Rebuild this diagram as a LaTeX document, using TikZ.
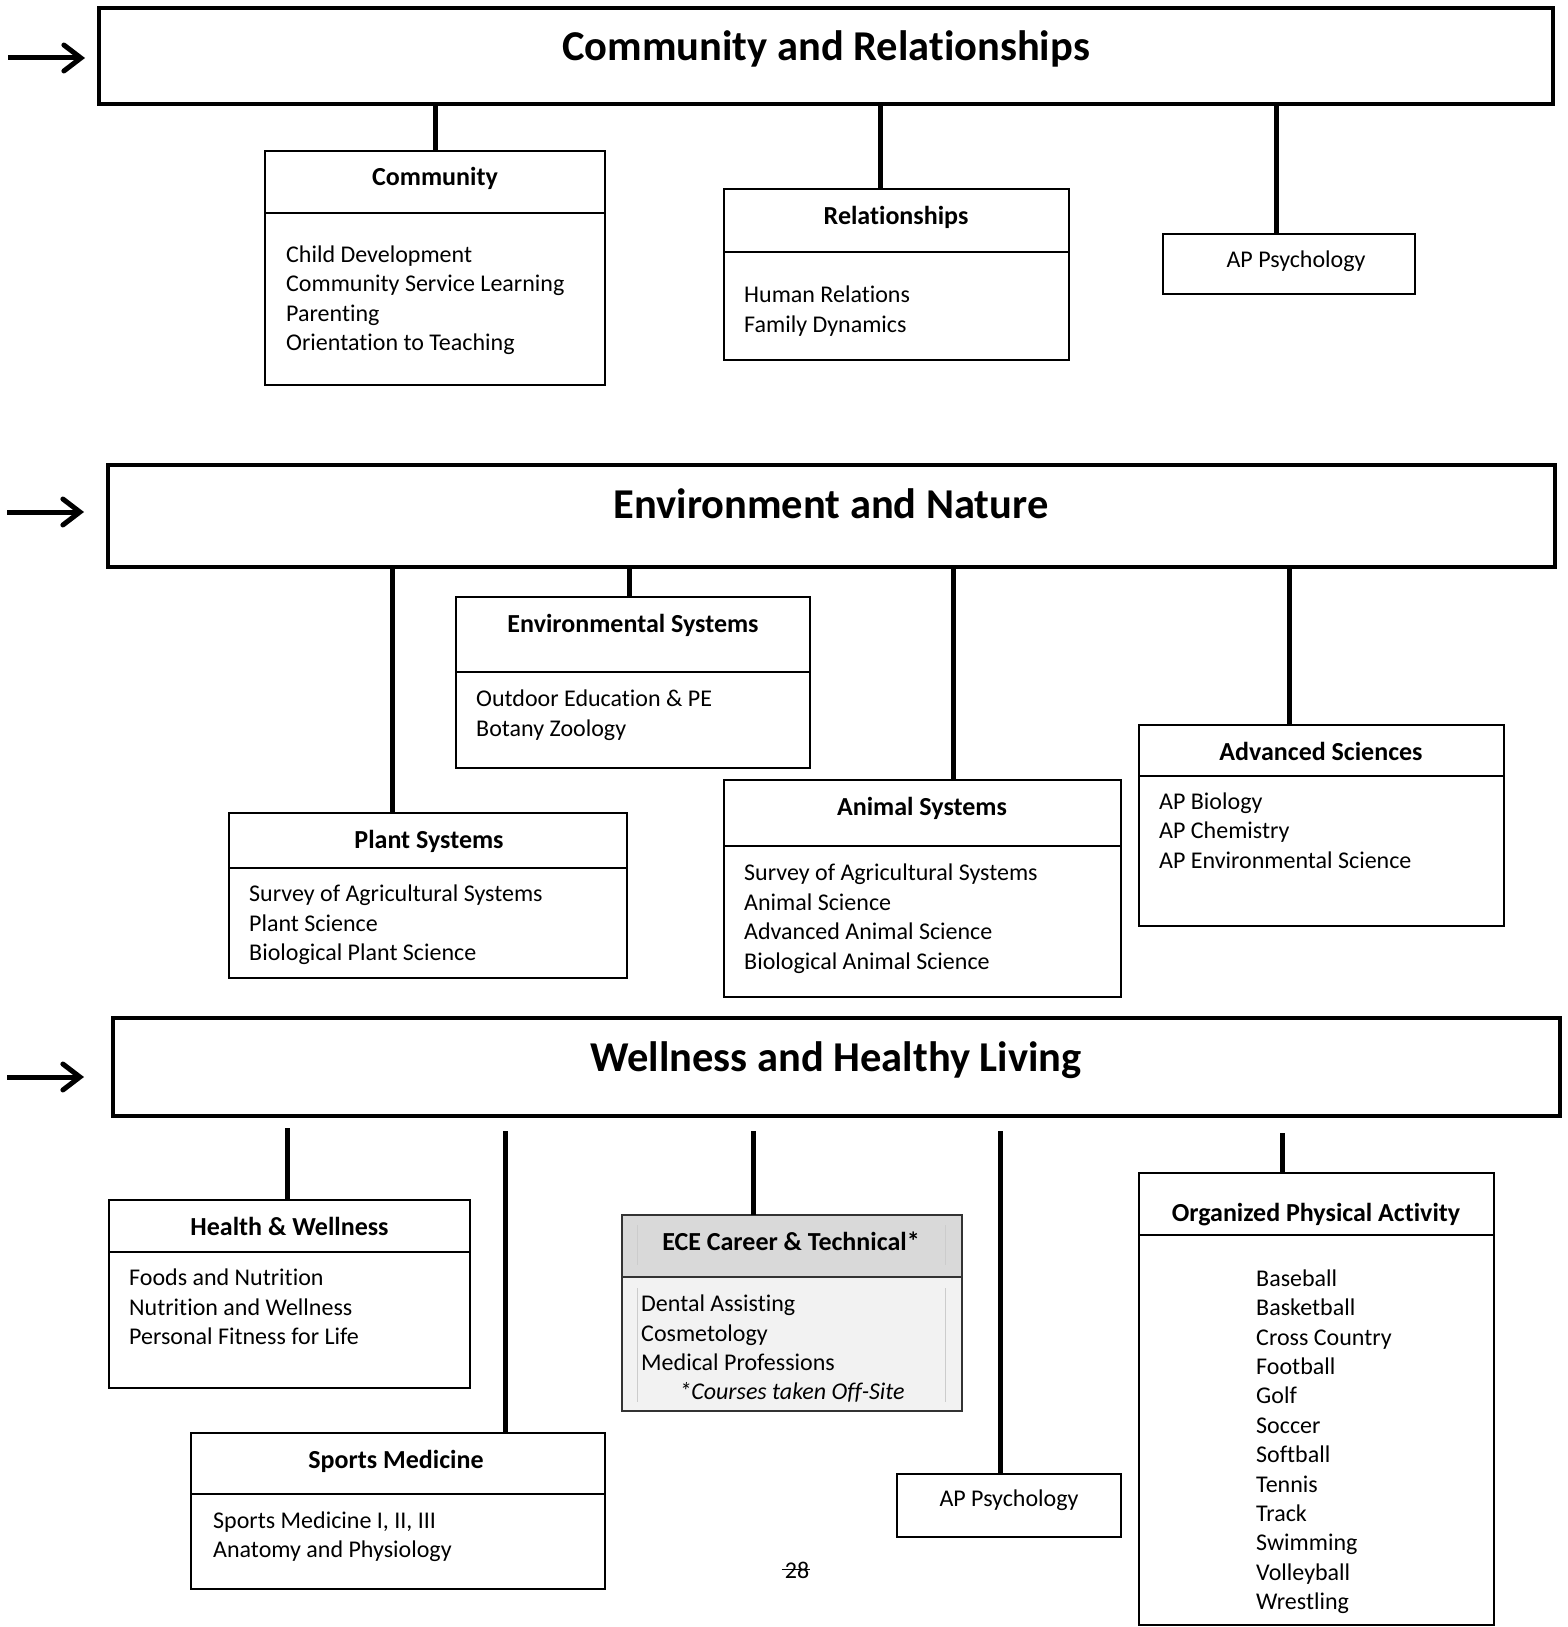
\documentclass[tikz,border=0pt]{standalone}
\usepackage{fontspec}
\setmainfont{Carlito}[Ligatures=NoCommon]
\usetikzlibrary{arrows.meta}
\begin{document}
\begin{tikzpicture}[x=1pt,y=-1pt,
  ttl/.style={draw, line width=3.5pt, inner sep=0pt, outer sep=0pt, anchor=north west},
  bx/.style={draw, line width=1.3pt, inner sep=0pt, outer sep=0pt, anchor=north west},
  conn/.style={line width=5pt},
  pointer/.style={line width=5pt, -{Straight Barb[length=17pt,width=26pt,line cap=round]}},
  titletext/.style={font=\fontsize{42.5}{50}\selectfont\bfseries, inner sep=0pt, anchor=base},
  headtext/.style={font=\fontsize{26}{31}\selectfont\bfseries, inner sep=0pt, anchor=base},
  linetext/.style={font=\fontsize{24}{29.4}\selectfont, inner sep=0pt, anchor=base},
  bodytext/.style={font=\fontsize{24}{29.4}\selectfont, inner sep=0pt, align=left, anchor=north west},
  innerline/.style={draw=black!20, line width=0.8pt}
]
\useasboundingbox (0,0) rectangle (1567,1627);

% ---------- Community and Relationships ----------
\node[ttl, minimum width=1454pt, minimum height=96pt] (t1) at (99,8) {};
\node[titletext] (t1txt) at (826,60.3) {Community and Relationships};
\coordinate (a1s) at (8,58);
\coordinate (a1e) at (85,58);
\draw[pointer] (a1s) -- (a1e);

\node[bx, minimum width=340pt, minimum height=62pt] (commH) at (265,151) {};
\node[bx, minimum width=340pt, minimum height=172pt] (commB) at (265,213) {};
\node[headtext] (commT) at (435,185.8) {Community};
\node[bodytext] (commL) at (286,245.5) {Child Development\\Community Service Learning\\Parenting\\Orientation to Teaching};

\node[bx, minimum width=345pt, minimum height=63pt] (relH) at (724,189) {};
\node[bx, minimum width=345pt, minimum height=108pt] (relB) at (724,252) {};
\node[headtext] (relT) at (896,224) {Relationships};
\node[bodytext] (relL) at (744,286) {Human Relations\\Family Dynamics};

\node[bx, minimum width=252pt, minimum height=60pt] (apTop) at (1163,234) {};
\node[linetext] (apTopT) at (1296,267) {AP Psychology};

\coordinate (c1) at (435,0);
\coordinate (c2) at (880,0);
\coordinate (c3) at (1276,0);
\draw[conn] (t1.south -| c1) -- (commH.north -| c1);
\draw[conn] (t1.south -| c2) -- (relH.north -| c2);
\draw[conn] (t1.south -| c3) -- (apTop.north -| c3);

% ---------- Environment and Nature ----------
\node[ttl, minimum width=1447pt, minimum height=102pt] (t2) at (108,465) {};
\node[titletext] (t2txt) at (831,518) {Environment and Nature};
\coordinate (a2s) at (7,512);
\coordinate (a2e) at (84,512);
\draw[pointer] (a2s) -- (a2e);

\node[bx, minimum width=354pt, minimum height=75pt] (envH) at (456,597) {};
\node[bx, minimum width=354pt, minimum height=96pt] (envB) at (456,672) {};
\node[headtext] (envT) at (633,632) {Environmental Systems};
\node[bodytext] (envL) at (476,690) {Outdoor Education \& PE\\Botany Zoology};

\node[bx, minimum width=398pt, minimum height=55pt] (plH) at (229,813) {};
\node[bx, minimum width=398pt, minimum height=110pt] (plB) at (229,868) {};
\node[headtext] (plT) at (429,848) {Plant Systems};
\node[bodytext] (plL) at (249,885) {Survey of Agricultural Systems\\Plant Science\\Biological Plant Science};

\node[bx, minimum width=397pt, minimum height=66pt] (anH) at (724,780) {};
\node[bx, minimum width=397pt, minimum height=151pt] (anB) at (724,846) {};
\node[headtext] (anT) at (922,815.5) {Animal Systems};
\node[bodytext] (anL) at (744,864) {Survey of Agricultural Systems\\Animal Science\\Advanced Animal Science\\Biological Animal Science};

\node[bx, minimum width=365pt, minimum height=51pt] (advH) at (1139,725) {};
\node[bx, minimum width=365pt, minimum height=150pt] (advB) at (1139,776) {};
\node[headtext] (advT) at (1321,760.5) {Advanced Sciences};
\node[bodytext] (advL) at (1159,792.5) {AP Biology\\AP Chemistry\\AP Environmental Science};

\coordinate (e1) at (392,0);
\coordinate (e2) at (629,0);
\coordinate (e3) at (953,0);
\coordinate (e4) at (1289,0);
\draw[conn] (t2.south -| e1) -- (plH.north -| e1);
\draw[conn] (t2.south -| e2) -- (envH.north -| e2);
\draw[conn] (t2.south -| e3) -- (anH.north -| e3);
\draw[conn] (t2.south -| e4) -- (advH.north -| e4);

% ---------- Wellness and Healthy Living ----------
\node[ttl, minimum width=1447pt, minimum height=98pt] (t3) at (113,1018) {};
\node[titletext] (t3txt) at (836,1071) {Wellness and Healthy Living};
\coordinate (a3s) at (7,1077);
\coordinate (a3e) at (84,1077);
\draw[pointer] (a3s) -- (a3e);

\node[bx, minimum width=361pt, minimum height=52pt] (hwH) at (109,1200) {};
\node[bx, minimum width=361pt, minimum height=136pt] (hwB) at (109,1252) {};
\node[headtext] (hwT) at (289.5,1235) {Health \& Wellness};
\node[bodytext] (hwL) at (129,1269) {Foods and Nutrition\\Nutrition and Wellness\\Personal Fitness for Life};

\node[bx, minimum width=414pt, minimum height=61pt] (smH) at (191,1433) {};
\node[bx, minimum width=414pt, minimum height=95pt] (smB) at (191,1494) {};
\node[headtext] (smT) at (396,1468.3) {Sports Medicine};
\node[bodytext] (smL) at (213,1511.5) {Sports Medicine I, II, III\\Anatomy and Physiology};

\node[bx, draw=black!80, fill=black!15, minimum width=340pt, minimum height=62pt] (eceH) at (622,1215) {};
\node[bx, draw=black!80, fill=black!5, minimum width=340pt, minimum height=134pt] (eceB) at (622,1277) {};
\draw[innerline] (637.7,1225) -- (637.7,1265);
\draw[innerline] (945,1225) -- (945,1265);
\draw[innerline] (637.7,1288) -- (637.7,1402);
\draw[innerline] (945,1288) -- (945,1402);
\node[headtext] (eceT) at (791,1250.5) {ECE Career \& Technical*};
\node[bodytext] (eceL) at (641,1295) {Dental Assisting\\Cosmetology\\Medical Professions};
\node[linetext, font=\fontsize{24}{29.4}\selectfont\itshape] (eceN) at (792,1399.3) {*Courses taken Off-Site};

\node[bx, minimum width=224pt, minimum height=63pt] (apBot) at (897,1474) {};
\node[linetext] (apBotT) at (1009,1506) {AP Psychology};

\node[bx, minimum width=355pt, minimum height=62pt] (opaH) at (1139,1173) {};
\node[bx, minimum width=355pt, minimum height=390pt] (opaB) at (1139,1235) {};
\node[headtext] (opaT) at (1316,1221.5) {Organized Physical Activity};
\node[bodytext] (opaL) at (1256,1269.5) {Baseball\\Basketball\\Cross Country\\Football\\Golf\\Soccer\\Softball\\Tennis\\Track\\Swimming\\Volleyball\\Wrestling};

\coordinate (w1) at (287,1128);
\coordinate (w2) at (505,1131);
\coordinate (w3) at (753,1131);
\coordinate (w4) at (1000,1131);
\coordinate (w5) at (1282,1133);
\draw[conn] (w1) -- (hwH.north -| w1);
\draw[conn] (w2) -- (smH.north -| w2);
\draw[conn] (w3) -- (eceH.north -| w3);
\draw[conn] (w4) -- (apBot.north -| w4);
\draw[conn] (w5) -- (opaH.north -| w5);

% page number
\node[linetext] (pg) at (797,1578) {28};
\draw[line width=1pt] ([xshift=-3pt]pg.west |- 0,1569) -- ([xshift=1pt]pg.east |- 0,1569);
\end{tikzpicture}
\end{document}
